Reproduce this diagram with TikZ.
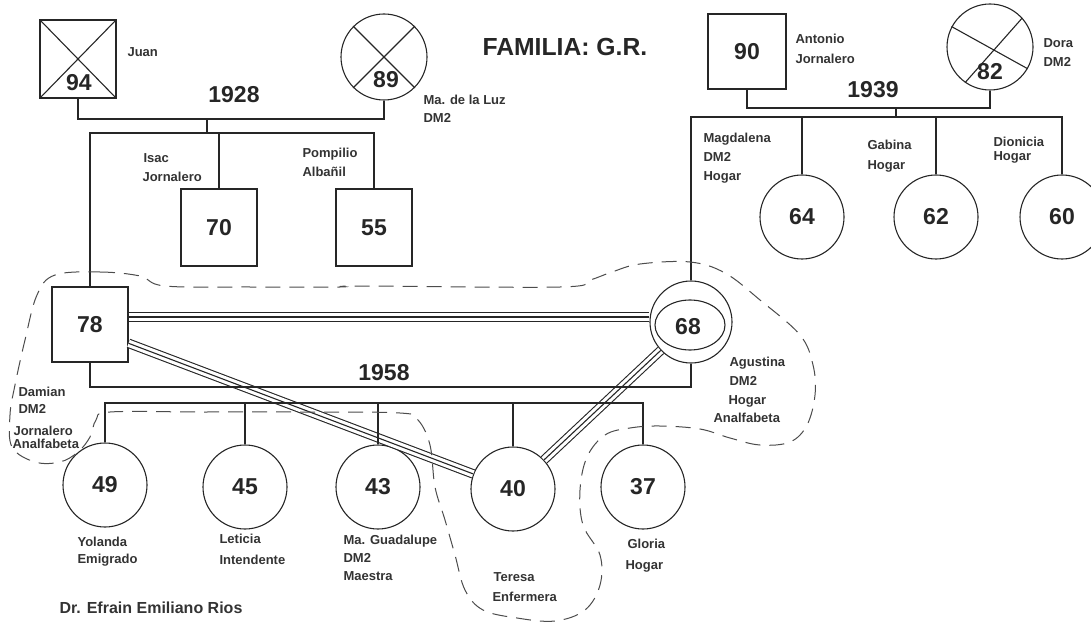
\documentclass[tikz,border=0pt]{standalone}
\usepackage{fontspec}
\setmainfont{Liberation Sans}
\begin{document}
\begin{tikzpicture}[x=1pt,y=-1pt, line width=1.1pt, color=black!85,
  sq/.style={draw, minimum width=76pt, minimum height=76pt, inner sep=0pt, font=\bfseries\fontsize{23}{26}\selectfont},
  circ/.style={draw, circle, minimum size=84pt, inner sep=0pt, font=\bfseries\fontsize{23}{26}\selectfont},
  num/.style={font=\bfseries\fontsize{23}{26}\selectfont, inner sep=0pt},
  lbl/.style={font=\bfseries\fontsize{13}{15}\selectfont, anchor=west, inner sep=0pt, text=black!80},
  trip/.style={line width=1.1pt, preaction={draw, line width=9.5pt}, preaction={draw=white, line width=7.3pt}},
  bound/.style={dash pattern=on 15pt off 9pt, line width=1pt, draw=black!70}]
\useasboundingbox (0,0) rectangle (1091,628);

% ---------- generation 1, left ----------
\node[sq, minimum height=78pt] (juan) at (78,59) {};
\draw (juan.north west) -- (juan.south east) (juan.north east) -- (juan.south west);
\node[num] (t94) at (79,83) {94};
\node[circ, minimum size=86pt] (luz) at (384,57) {};
\draw (luz.135) -- (luz.-45) (luz.45) -- (luz.225);
\node[num] (t89) at (386,80) {89};
\node[num] (y1928) at (234,95) {1928};
\coordinate (m1) at (207,119);
\coordinate (c1) at (207,133);

% ---------- generation 1, right ----------
\node[sq, minimum width=78pt, minimum height=75pt] (ant) at (747,51.5) {90};
\node[circ, minimum size=86pt] (dora) at (990,47) {};
\draw (dora.152) -- (dora.-30) (dora.42) -- (dora.235);
\node[num] (t82) at (990,72) {82};
\node[num] (y1939) at (873,90) {1939};
\coordinate (m2) at (896,108);
\coordinate (c2) at (896,117);

% ---------- generation 2 ----------
\node[sq, minimum height=77pt] (n70) at (219,227.5) {70};
\node[sq, minimum height=77pt] (n55) at (374,227.5) {55};
\node[sq, minimum height=75pt] (n78) at (90,324.5) {78};
\node[circ] (n64) at (802,217) {64};
\node[circ] (n62) at (936,217) {62};
\node[circ] (n60) at (1062,217) {60};
\node[circ, minimum size=82pt] (n68) at (691,322) {};
\draw (690,325) ellipse [x radius=35pt, y radius=25pt];
\node[num] (t68) at (688,327) {68};
\node[num] (y1958) at (384,373) {1958};
\coordinate (m3) at (390,387);
\coordinate (c3) at (390,403);

% ---------- generation 3 ----------
\node[circ] (n49) at (105,485) {49};
\node[circ] (n45) at (245,487) {45};
\node[circ] (n43) at (378,487) {43};
\node[circ] (n40) at (513,489) {40};
\node[circ] (n37) at (643,487) {37};

% ---------- close relationships ----------
\draw[trip] (n78.11) -- (n78.11 -| n68.west);
\draw[trip] (n78.-26) -- (n40);
\draw[trip] (n68) -- (n40);

% ---------- genealogy lines ----------
\draw (juan.south) |- (m1) -| (luz.south);
\draw (m1) -- (c1);
\draw (n78.north) |- (c1) -| (n55.north);
\draw (c1 -| n70.north) -- (n70.north);

\draw (ant.south) |- (m2) -| (dora.south);
\draw (m2) -- (c2);
\draw (n68.north) |- (c2) -| (n60.north);
\draw (c2 -| n64.north) -- (n64.north);
\draw (c2 -| n62.north) -- (n62.north);

\draw (n78.south) |- (m3) -| (n68.south);
\draw (n49.north) |- (c3) -| (n37.north);
\foreach \n in {n45,n43,n40} \draw (c3 -| \n.north) -- (\n.north);

% ---------- household boundary ----------
\draw[bound] plot[smooth cycle, tension=0.6] coordinates {
 (55,275) (100,272) (140,276) (165,286) (250,287) (340,287) (360,286)
 (560,287) (590,280) (612,272) (640,264) (690,262) (725,273) (760,300)
 (800,335) (813,365) (815,395) (807,425) (790,442) (760,445) (730,438)
 (700,429) (660,426) (630,428) (605,435) (587,457) (580,490) (583,525)
 (600,555) (600,585) (585,610) (555,621) (517,618) (483,610) (465,590)
 (455,555) (445,520) (435,487) (430,445) (418,420) (400,413) (300,412)
 (200,412) (110,412) (96,420) (90,437) (78,452) (60,462) (35,462)
 (12,447) (10,415) (15,385) (25,340) (37,295)};

% ---------- labels ----------
\node[lbl] (lJuan) at (127,52) {Juan};
\node[lbl] (lLuz1) at (423,100) {Ma. de la Luz};
\node[lbl] (lLuz2) at (423,118) {DM2};
\node[lbl] (lIsac1) at (143,158) {Isac};
\node[lbl] (lIsac2) at (142,177) {Jornalero};
\node[lbl] (lPom1) at (302,154) {Pompilio};
\node[lbl] (lPom2) at (302,172) {Albañil};
\node[lbl] (lAnt1) at (795,39) {Antonio};
\node[lbl] (lAnt2) at (795,59) {Jornalero};
\node[lbl] (lDora1) at (1043,43) {Dora};
\node[lbl] (lDora2) at (1043,62) {DM2};
\node[lbl] (lMag1) at (703,139) {Magdalena};
\node[lbl] (lMag2) at (703,157) {DM2};
\node[lbl] (lMag3) at (703,177) {Hogar};
\node[lbl] (lGab1) at (867,145) {Gabina};
\node[lbl] (lGab2) at (867,166) {Hogar};
\node[lbl] (lDio1) at (993,142) {Dionicia};
\node[lbl] (lDio2) at (993,157) {Hogar};
\node[lbl] (lDam1) at (18,392) {Damian};
\node[lbl] (lDam2) at (18,409) {DM2};
\node[lbl] (lDam3) at (13,431) {Jornalero};
\node[lbl] (lDam4) at (12,444) {Analfabeta};
\node[lbl] (lAgu1) at (729,363) {Agustina};
\node[lbl] (lAgu2) at (729,381) {DM2};
\node[lbl] (lAgu3) at (728,401) {Hogar};
\node[lbl] (lAgu4) at (713,418) {Analfabeta};
\node[lbl] (lYol1) at (77,542) {Yolanda};
\node[lbl] (lYol2) at (77,560) {Emigrado};
\node[lbl] (lLet1) at (219,539) {Leticia};
\node[lbl] (lLet2) at (219,560) {Intendente};
\node[lbl] (lGua1) at (343,541) {Ma. Guadalupe};
\node[lbl] (lGua2) at (343,558) {DM2};
\node[lbl] (lGua3) at (343,576) {Maestra};
\node[lbl] (lTer1) at (493,577) {Teresa};
\node[lbl] (lTer2) at (492,597) {Enfermera};
\node[lbl] (lGlo1) at (627,544) {Gloria};
\node[lbl] (lGlo2) at (625,566) {Hogar};

\node[font=\bfseries\fontsize{24.7}{28}\selectfont, anchor=west, inner sep=0pt] (title) at (482,47) {FAMILIA: G.R.};
\node[font=\bfseries\fontsize{16}{19}\selectfont, anchor=west, inner sep=0pt, text=black!80] (author) at (59,608) {Dr. Efrain Emiliano Rios};
\end{tikzpicture}
\end{document}
